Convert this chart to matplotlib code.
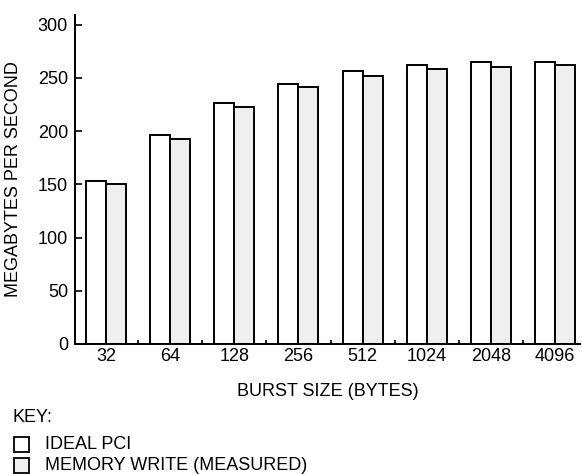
import matplotlib
matplotlib.use("Agg")
import matplotlib.pyplot as plt
import numpy as np
from matplotlib.patches import Rectangle

plt.rcParams['font.family'] = ['Liberation Sans', 'DejaVu Sans']

categories = ["32", "64", "128", "256", "512", "1024", "2048", "4096"]
ideal_pci = [153, 196, 226, 244, 256, 262, 265, 265]
memory_write = [150, 193, 223, 241, 252, 258, 260, 262]
y_ticks = [0, 50, 100, 150, 200, 250, 300]

FS = 13
W, H = 582, 474
fig = plt.figure(figsize=(W / 100, H / 100), dpi=100)
ax = fig.add_axes([75 / W, 1 - 344 / H, (580 - 75) / W, (344 - 15) / H])

x = np.arange(len(categories))
bw = 0.312
ax.bar(x - bw / 2, ideal_pci, width=bw, color='white', edgecolor='black', linewidth=1.4)
ax.bar(x + bw / 2, memory_write, width=bw, color='#efefef', edgecolor='black', linewidth=1.4)

ax.set_xlim(-0.484, 7.39)
ax.set_ylim(0, 309)
ax.spines['top'].set_visible(False)
ax.spines['right'].set_visible(False)
ax.spines['left'].set_linewidth(1.4)
ax.spines['bottom'].set_linewidth(1.4)

ax.set_yticks(y_ticks)
ax.set_yticklabels([str(v) for v in y_ticks], fontsize=FS)
ax.tick_params(axis='y', direction='in', length=5, width=1.2, pad=5)

ax.set_xticks(x)
ax.set_xticklabels(categories, fontsize=FS)
ax.tick_params(axis='x', which='major', length=0, pad=3)
ax.set_xticks(x[:-1] + 0.5, minor=True)
ax.tick_params(axis='x', which='minor', direction='in', length=3, width=1.2)

ax.set_ylabel("MEGABYTES PER SECOND", fontsize=FS)
ax.yaxis.set_label_coords((22 - 75) / (580 - 75), 0.5)

fig.text(328 / W, 1 - 391 / H, "BURST SIZE (BYTES)", fontsize=FS, ha='center', va='center')
fig.text(13 / W, 1 - 418 / H, "KEY:", fontsize=FS, ha='left', va='center')

legend_items = [("IDEAL PCI", 'white', 444.5), ("MEMORY WRITE (MEASURED)", '#efefef', 465)]
for label, color, yc in legend_items:
    fig.patches.append(Rectangle((13.5 / W, 1 - (yc + 7.5) / H), 15 / W, 15 / H,
                                 transform=fig.transFigure, facecolor=color,
                                 edgecolor='black', linewidth=1.3))
    fig.text(45 / W, 1 - yc / H, label, fontsize=FS, ha='left', va='center')

fig.savefig("out.png", dpi=100)
